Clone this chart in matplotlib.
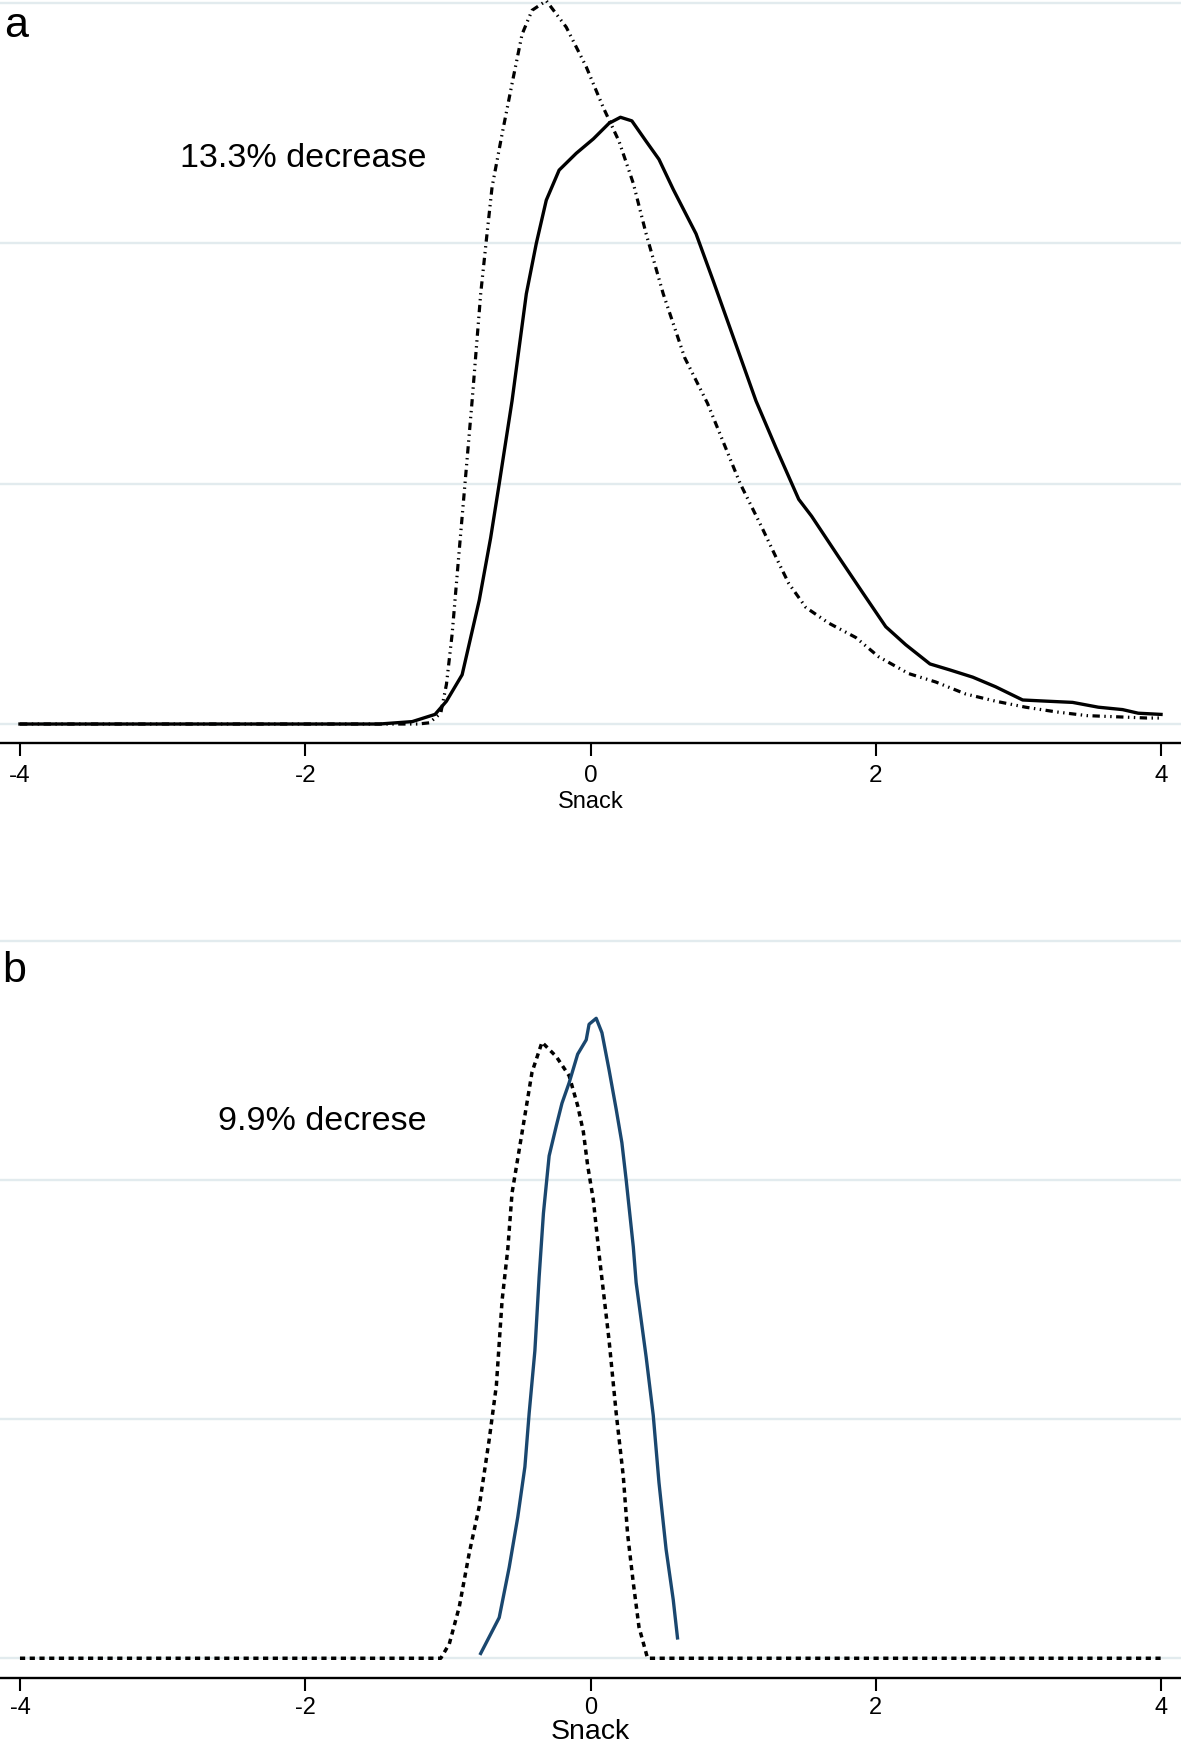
"""
Kernel density of Snack, two panels (a: before/after, b: before/after)
"""

import matplotlib
matplotlib.use('Agg')
import matplotlib.pyplot as plt

plt.rcParams['font.family'] = ['Liberation Sans', 'DejaVu Sans']
plt.rcParams['axes.unicode_minus'] = False

# ── Data ────────────────────────────────────────────────────────────
# panel a, solid curve
a_solid_x = [-4.0, -1.48, -1.25, -1.09, -1.01, -0.90, -0.78, -0.70, -0.64, -0.55,
             -0.45, -0.38, -0.31, -0.22, -0.10, 0.02, 0.13, 0.21, 0.29, 0.39,
             0.48, 0.58, 0.74, 0.86, 0.98, 1.16, 1.30, 1.46, 1.55, 1.74,
             1.91, 2.07, 2.21, 2.38, 2.52, 2.68, 2.84, 3.03, 3.20, 3.38,
             3.56, 3.73, 3.84, 4.0]
a_solid_y = [0.0, 0.0, 0.002, 0.008, 0.019, 0.041, 0.103, 0.155, 0.200, 0.269,
             0.358, 0.400, 0.436, 0.461, 0.475, 0.487, 0.500, 0.505, 0.502, 0.485,
             0.470, 0.445, 0.408, 0.369, 0.329, 0.269, 0.230, 0.187, 0.173, 0.139,
             0.109, 0.081, 0.066, 0.050, 0.045, 0.039, 0.031, 0.020, 0.019, 0.018,
             0.014, 0.012, 0.009, 0.008]

# panel a, dash-dot curve
a_dash_x = [-4.0, -1.21, -1.13, -1.05, -1.01, -0.97, -0.92, -0.88, -0.83, -0.77,
            -0.73, -0.69, -0.62, -0.55, -0.48, -0.41, -0.31, -0.17, -0.03, 0.09,
            0.20, 0.30, 0.39, 0.51, 0.66, 0.82, 1.05, 1.20, 1.32, 1.39,
            1.51, 1.67, 1.86, 2.02, 2.23, 2.42, 2.63, 2.84, 3.05, 3.27,
            3.48, 3.69, 3.90, 4.0]
a_dash_y = [0.0, 0.0, 0.001, 0.009, 0.033, 0.075, 0.145, 0.200, 0.269, 0.358,
            0.403, 0.447, 0.491, 0.533, 0.574, 0.594, 0.602, 0.580, 0.547, 0.513,
            0.485, 0.450, 0.408, 0.358, 0.305, 0.267, 0.200, 0.164, 0.134, 0.117,
            0.097, 0.084, 0.072, 0.056, 0.042, 0.035, 0.025, 0.019, 0.014, 0.010,
            0.007, 0.006, 0.005, 0.005]

# panel b, dotted curve
b_dot_x = [-4.0, -1.05, -0.99, -0.92, -0.85, -0.78, -0.71, -0.66, -0.62, -0.58,
           -0.55, -0.50, -0.45, -0.41, -0.34, -0.24, -0.15, -0.09, -0.05, -0.02,
           0.02, 0.06, 0.13, 0.18, 0.23, 0.26, 0.30, 0.34, 0.40, 4.0]
b_dot_y = [0.0, 0.0, 0.012, 0.043, 0.088, 0.127, 0.183, 0.228, 0.299, 0.342,
           0.389, 0.425, 0.461, 0.490, 0.515, 0.503, 0.487, 0.462, 0.440, 0.412,
           0.383, 0.338, 0.266, 0.205, 0.152, 0.104, 0.063, 0.026, 0.0, 0.0]

# panel b, blue solid curve
b_blue_x = [-0.77, -0.64, -0.57, -0.51, -0.46, -0.43, -0.39, -0.36, -0.33, -0.29,
            -0.24, -0.20, -0.15, -0.09, -0.03, -0.01, 0.04, 0.08, 0.13, 0.18,
            0.22, 0.25, 0.30, 0.32, 0.39, 0.44, 0.48, 0.53, 0.58, 0.61]
b_blue_y = [0.004, 0.034, 0.076, 0.118, 0.160, 0.205, 0.257, 0.319, 0.372, 0.420,
            0.445, 0.464, 0.481, 0.505, 0.517, 0.530, 0.535, 0.523, 0.492, 0.459,
            0.431, 0.400, 0.344, 0.314, 0.252, 0.203, 0.147, 0.091, 0.049, 0.017]

x_ticks = [-4, -2, 0, 2, 4]
grid_y = [0, 0.2, 0.4, 0.6]

grid_col = '#E2EBEE'
navy = '#1A476F'

# ── Plot ────────────────────────────────────────────────────────────
W, H = 1181, 1748
fig = plt.figure(figsize=(W / 100, H / 100), dpi=100)

ax_a = fig.add_axes([0, 1 - 743 / H, 1, 743 / H])
ax_b = fig.add_axes([0, 1 - 1678 / H, 1, (1678 - 925) / H])


def style(ax, ylim, tick_fs, tick_pad, label_fs, labelpad):
    ax.set_xlim(-4.14, 4.14)
    ax.set_ylim(*ylim)
    ax.set_xticks(x_ticks)
    ax.set_yticks(grid_y)
    ax.tick_params(axis='y', length=0, labelleft=False)
    ax.tick_params(axis='x', length=9.5, width=1.5, pad=tick_pad, labelsize=tick_fs)
    for s in ['top', 'right', 'left']:
        ax.spines[s].set_visible(False)
    ax.spines['bottom'].set_linewidth(1.7)
    ax.grid(axis='y', color=grid_col, lw=1.7)
    ax.set_axisbelow(True)
    ax.set_xlabel('Snack', fontsize=label_fs, labelpad=labelpad)
    ax.patch.set_alpha(0)


# panel a
ax_a.plot(a_solid_x, a_solid_y, color='black', lw=2.4, solid_joinstyle='round')
ax_a.plot(a_dash_x, a_dash_y, color='black', lw=2.3,
          linestyle=(0, (2.3, 1.4, 0.45, 1.4, 0.45, 1.4)))
style(ax_a, (-0.0158, 0.6026), 17.5, 6, 17, 3)

# panel b
ax_b.plot(b_dot_x, b_dot_y, color='black', lw=2.5, linestyle=(0, (1.5, 1.3)),
          dash_capstyle='butt')
ax_b.plot(b_blue_x, b_blue_y, color=navy, lw=2.4, solid_joinstyle='round')
style(ax_b, (-0.0165, 0.613), 17, 4, 20.5, 0)

# panel letters and annotations
fig.text(4 / W, 1 - 37 / H, 'a', fontsize=31, ha='left', va='baseline')
fig.text(2 / W, 1 - 982 / H, 'b', fontsize=31, ha='left', va='baseline')
fig.text(427 / W, 1 - 167 / H, '13.3% decrease', fontsize=24.5, ha='right', va='baseline')
fig.text(427 / W, 1 - 1130 / H, '9.9% decrese', fontsize=24.5, ha='right', va='baseline')

fig.savefig('out.png', dpi=100)
print("Saved out.png")
